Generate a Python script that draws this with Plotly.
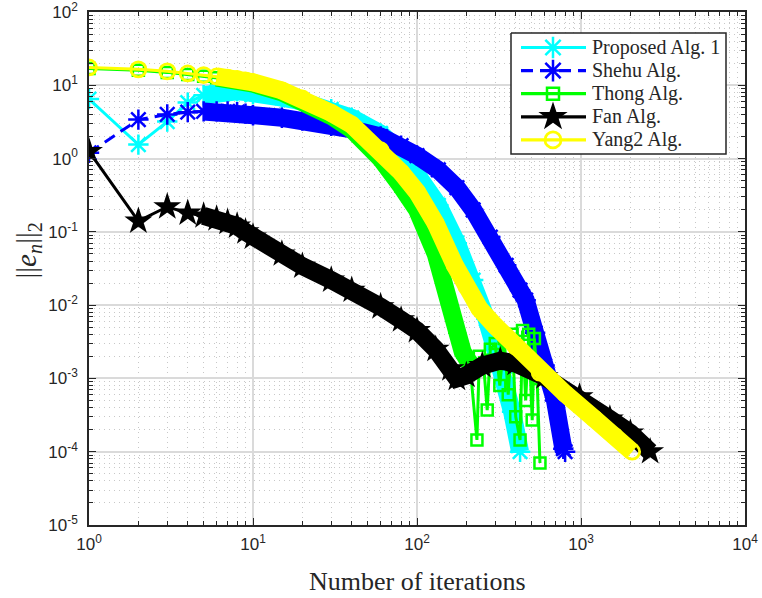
import plotly.graph_objects as go

# ---------------- data ----------------
# Proposed Alg. 1
prop_iter = [1, 2, 3, 4, 5, 6, 7, 8, 9, 10, 15, 20, 30, 40, 60, 80, 100, 135, 175, 220, 265, 300, 345, 380, 425]
prop_err = [6.5, 1.55, 3.2, 5.8, 7.3, 8.0, 8.3, 8.3, 8.1, 7.6, 6.8, 6.0, 4.7, 3.6, 2.2, 1.2, 0.6, 0.23, 0.07, 0.022,
            6.5e-3, 2.5e-3, 1.0e-3, 3.5e-4, 1.0e-4]

# Shehu Alg.
shehu_iter = [1, 2, 3, 4, 5, 6, 7, 8, 9, 10, 15, 20, 30, 40, 60, 80, 100, 135, 175, 220, 280, 350, 425, 460, 525,
              600, 694, 780, 800]
shehu_err = [1.2, 3.4, 4.0, 4.3, 4.4, 4.4, 4.4, 4.3, 4.1, 3.9, 3.6, 3.3, 2.8, 2.5, 2.0, 1.5, 1.1, 0.7, 0.4, 0.2,
             0.085, 0.035, 0.016, 0.0117, 4.2e-3, 1.5e-3, 5.0e-4, 1.1e-4, 1.0e-4]

# Thong Alg.
thong_iter = [1, 2, 3, 4, 5, 6, 7, 8, 9, 10, 15, 20, 30, 40, 60, 80, 100, 130, 150, 170, 190, 210,
              232, 240, 255, 268, 280, 300, 320, 340, 360, 380, 400, 425, 440, 460, 480, 504, 520, 540, 562]
thong_err = [17, 16, 15, 14, 13.3, 12.7, 12.2, 11.7, 11.2, 10.5, 8.0, 6.2, 3.8, 2.5, 1.0, 0.42, 0.2, 0.05, 0.015,
             5e-3, 2.3e-3, 1.6e-3,
             1.45e-4, 2e-3, 1.5e-3, 3.7e-4, 2.5e-3, 3e-3, 8e-4, 3.5e-3, 6e-4, 4e-3, 3e-4, 1.45e-4, 4.5e-3, 5e-4,
             4e-3, 2.7e-4, 3.5e-3, 1e-3, 7e-5]

# Fan Alg.
fan_iter = [1, 2, 3, 4, 5, 6, 7, 8, 9, 10, 15, 20, 30, 40, 60, 80, 100, 130, 160, 175, 200, 250, 322, 400, 600,
            980, 1500, 2000, 2640]
fan_err = [1.25, 0.14, 0.22, 0.18, 0.165, 0.15, 0.135, 0.12, 0.1, 0.085, 0.05, 0.034, 0.022, 0.016, 0.0095, 6.3e-3,
           4.5e-3, 2.5e-3, 1.35e-3, 1.0e-3, 1.1e-3, 1.5e-3, 1.75e-3, 1.6e-3, 1.05e-3, 5.6e-4, 2.8e-4, 1.8e-4, 1.0e-4]

# Yang2 Alg.
yang_iter = [1, 2, 3, 4, 5, 6, 7, 8, 9, 10, 15, 20, 30, 40, 60, 80, 100, 130, 170, 200, 240, 300, 400, 560, 800,
             1200, 1600, 2050]
yang_err = [17.5, 16.5, 15.5, 14.5, 13.8, 13.2, 12.7, 12.2, 11.7, 11.0, 8.5, 6.6, 4.2, 2.9, 1.3, 0.65, 0.35, 0.13,
            0.035, 0.018, 9e-3, 5.2e-3, 2.7e-3, 1.2e-3, 6.2e-4, 2.85e-4, 1.65e-4, 1.0e-4]

names = ["Proposed Alg. 1", "Shehu Alg.", "Thong Alg.", "Fan Alg.", "Yang2 Alg."]
x_ticks = [1, 10, 100, 1000, 10000]
x_tick_text = ["10<sup>0</sup>", "10<sup>1</sup>", "10<sup>2</sup>", "10<sup>3</sup>", "10<sup>4</sup>"]
y_ticks = [1e-5, 1e-4, 1e-3, 1e-2, 1e-1, 1, 10, 100]
y_tick_text = ["10<sup>-5</sup>", "10<sup>-4</sup>", "10<sup>-3</sup>", "10<sup>-2</sup>", "10<sup>-1</sup>",
               "10<sup>0</sup>", "10<sup>1</sup>", "10<sup>2</sup>"]
x_title = "Number of iterations"
y_title = "||<i>e</i><sub><i>n</i></sub>||<sub>2</sub>"

# ---------------- styles ----------------
styles = [
    dict(iters=prop_iter, errs=prop_err, color="#00FFFF", symbol="asterisk-open", size=17, mlw=2.5, dash="solid",
         band=(5, 10000)),
    dict(iters=shehu_iter, errs=shehu_err, color="#0000FF", symbol="asterisk-open", size=17, mlw=2.5,
         dash="12px,7px", band=(5, 10000)),
    dict(iters=thong_iter, errs=thong_err, color="#00FF00", symbol="square-open", size=11, mlw=2.5, dash="solid",
         band=(6, 210)),
    dict(iters=fan_iter, errs=fan_err, color="#000000", symbol="star", size=21, mlw=0, dash="solid",
         band=(5, 10000)),
    dict(iters=yang_iter, errs=yang_err, color="#FFFF00", symbol="circle-open", size=15, mlw=2.8, dash="solid",
         band=(6, 10000)),
]

# page geometry (body margin is removed by the post script, so figure px == page px)
PLOT_L, PLOT_R, PLOT_T, PLOT_B = 89, 745, 12, 525
FIG_W, FIG_H = 762, 598

fig = go.Figure()
for name, st in zip(names, styles):
    lo, hi = st["band"]
    bx = [n for n in st["iters"] if lo <= n <= hi]
    by = [e for n, e in zip(st["iters"], st["errs"]) if lo <= n <= hi]
    fig.add_trace(go.Scatter(x=bx, y=by, mode="lines", showlegend=False, hoverinfo="skip",
                             line=dict(color=st["color"], width=18)))
    fig.add_trace(go.Scatter(
        x=st["iters"], y=st["errs"], mode="lines+markers", name=name, showlegend=False,
        line=dict(color=st["color"], width=3, dash=st["dash"]),
        marker=dict(symbol=st["symbol"], size=st["size"], color=st["color"],
                    line=dict(color=st["color"], width=st["mlw"]))))

# ---------------- legend drawn on an overlay axis in page pixels ----------------
LEG_BOX = (511, 726, 33, 154)
LEG_ROW0, LEG_ROW_STEP = 47.5, 23.1
LEG_LINE = (521, 586)
LEG_MARK_X, LEG_TEXT_X = 553, 590

x0, x1, y0, y1 = LEG_BOX
fig.add_trace(go.Scatter(x=[x0, x1, x1, x0, x0], y=[y0, y0, y1, y1, y0], xaxis="x2", yaxis="y2",
                         mode="lines", fill="toself", fillcolor="white",
                         line=dict(color="#262626", width=1.5), showlegend=False, hoverinfo="skip"))
for i, (name, st) in enumerate(zip(names, styles)):
    ry = LEG_ROW0 + i * LEG_ROW_STEP
    fig.add_trace(go.Scatter(x=list(LEG_LINE), y=[ry, ry], xaxis="x2", yaxis="y2", mode="lines",
                             line=dict(color=st["color"], width=3.2, dash=st["dash"]),
                             showlegend=False, hoverinfo="skip"))
    fig.add_trace(go.Scatter(x=[LEG_MARK_X], y=[ry], xaxis="x2", yaxis="y2", mode="markers",
                             marker=dict(symbol=st["symbol"], size=st["size"] + 1, color=st["color"],
                                         line=dict(color=st["color"], width=st["mlw"])),
                             showlegend=False, hoverinfo="skip"))
    fig.add_annotation(text=name, xref="x2", yref="y2", x=LEG_TEXT_X, y=ry, xanchor="left",
                       yanchor="middle", showarrow=False,
                       font=dict(family="Liberation Serif, Times New Roman, serif", size=20, color="#262626"))

minor_x = [k * 10 ** e for e in range(0, 4) for k in range(2, 10)]
minor_y = [k * 10.0 ** e for e in range(-5, 2) for k in range(2, 10)]

axis_common = dict(
    type="log", showline=True, linecolor="#262626", linewidth=1.5, mirror="allticks",
    ticks="inside", ticklen=7, tickwidth=1.2, tickcolor="#262626",
    showgrid=True, gridcolor="#dadada", gridwidth=1.6, zeroline=False,
    automargin=False, ticklabeloverflow="allow",
    tickfont=dict(family="Liberation Sans, Arial, sans-serif", size=17, color="#262626"),
)
minor_common = dict(tickmode="array", ticks="inside", ticklen=4, tickcolor="#262626",
                    showgrid=True, gridcolor="#c8c8c8", griddash="1px,4px", gridwidth=1)

xaxis_cfg = dict(range=[0, 4], tickmode="array", tickvals=x_ticks, ticktext=x_tick_text,
                 ticklabelstandoff=3, minor=dict(tickvals=minor_x, **minor_common), **axis_common)
yaxis_cfg = dict(range=[-5, 2], tickmode="array", tickvals=y_ticks, ticktext=y_tick_text,
                 ticklabelstandoff=6, minor=dict(tickvals=minor_y, **minor_common), **axis_common)

fig.add_annotation(text=x_title, xref="paper", yref="paper", x=0.5, y=0, yanchor="middle",
                   yshift=-56, showarrow=False,
                   font=dict(family="Liberation Serif, Times New Roman, serif", size=26, color="#262626"))
fig.add_annotation(text=y_title, xref="paper", yref="paper", x=0, y=0.5, xanchor="center",
                   yanchor="middle", xshift=-62, yshift=18, textangle=-90, showarrow=False,
                   font=dict(family="Liberation Serif, Times New Roman, serif", size=29, color="#262626"))

fig.update_layout(
    width=FIG_W, height=FIG_H,
    margin=dict(l=PLOT_L, r=FIG_W - PLOT_R, t=PLOT_T, b=FIG_H - PLOT_B),
    paper_bgcolor="white", plot_bgcolor="white", showlegend=False,
    xaxis=xaxis_cfg, yaxis=yaxis_cfg,
    xaxis2=dict(overlaying="x", anchor="y2", range=[PLOT_L, PLOT_R], visible=False, fixedrange=True),
    yaxis2=dict(overlaying="y", anchor="x2", range=[PLOT_B, PLOT_T], visible=False, fixedrange=True),
)

fig.write_html("out.html", config={"displayModeBar": False},
               post_script="document.body.style.margin='0';document.body.style.overflow='hidden';")
